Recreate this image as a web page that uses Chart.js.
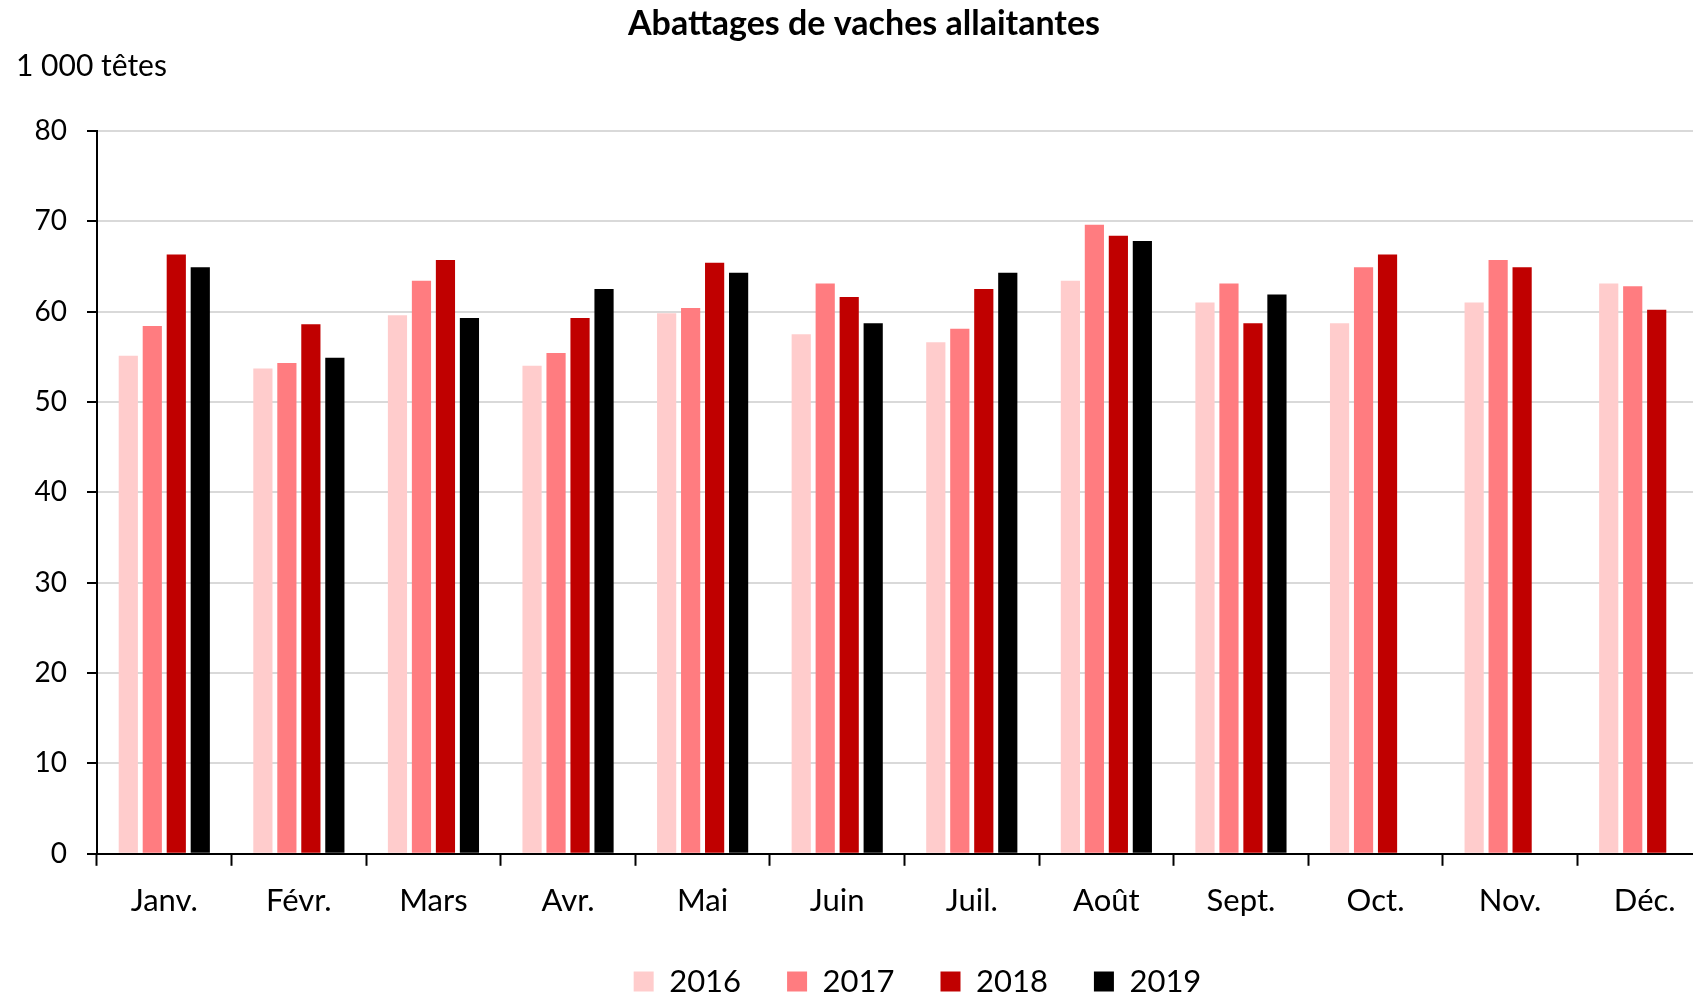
<!DOCTYPE html>
<html lang="fr">
<head>
<meta charset="utf-8">
<script src="https://cdn.jsdelivr.net/npm/chart.js@4"></script>
<style>
  html, body { margin: 0; padding: 0; background: #fff; overflow: hidden; }
  #wrap { position: relative; width: 1712px; height: 996px; }
</style>
</head>
<body>
<div id="wrap"><canvas id="chart"></canvas></div>
<script>
const months = ['Janv.', 'Févr.', 'Mars', 'Avr.', 'Mai', 'Juin', 'Juil.', 'Août', 'Sept.', 'Oct.', 'Nov.', 'Déc.'];
const years = ['2016', '2017', '2018', '2019'];

const y2016 = [55.1, 53.7, 59.6, 54.0, 59.8, 57.5, 56.6, 63.4, 61.0, 58.7, 61.0, 63.1];
const y2017 = [58.4, 54.3, 63.4, 55.4, 60.4, 63.1, 58.1, 69.6, 63.1, 64.9, 65.7, 62.8];
const y2018 = [66.3, 58.6, 65.7, 59.3, 65.4, 61.6, 62.5, 68.4, 58.7, 66.3, 64.9, 60.2];
const y2019 = [64.9, 54.9, 59.3, 62.5, 64.3, 58.7, 64.3, 67.8, 61.9, null, null, null];

const yTicks = [0, 10, 20, 30, 40, 50, 60, 70, 80];

const colors = ['#ffcccc', '#ff7c80', '#c00000', '#000000'];
const series = [y2016, y2017, y2018, y2019];

const font = 'Lato, "Open Sans", sans-serif';

const chartCanvas = document.getElementById('chart');

// nudge the legend a little to the right, like the original
const legendShift = {
  id: 'legendShift',
  afterLayout(chart) {
    chart.legend.left += 13;
    chart.legend.right += 13;
  }
};

new Chart(chartCanvas, {
  type: 'bar',
  data: {
    labels: months,
    datasets: series.map((vals, i) => ({
      label: years[i],
      data: vals,
      backgroundColor: colors[i],
      borderWidth: 0,
      categoryPercentage: 0.713,
      barPercentage: 0.8
    }))
  },
  plugins: [legendShift],
  options: {
    responsive: true,
    maintainAspectRatio: false,
    animation: false,
    layout: { padding: { left: 16, right: 0, top: 0, bottom: -11 } },
    plugins: {
      title: {
        display: true,
        text: 'Abattages de vaches allaitantes',
        color: '#000',
        font: { family: font, size: 34, weight: 'bold' },
        padding: { top: 4, bottom: 0 }
      },
      subtitle: {
        display: true,
        text: '1 000 têtes',
        align: 'start',
        color: '#000',
        font: { family: font, size: 30 },
        padding: { top: 4, bottom: 46 }
      },
      legend: {
        position: 'bottom',
        fullSize: false,
        labels: {
          color: '#000',
          font: { family: font, size: 31 },
          boxWidth: 20,
          boxHeight: 20,
          padding: 46
        }
      },
      tooltip: { enabled: false }
    },
    scales: {
      x: {
        offset: true,
        afterFit: scale => { scale.height -= 17; },
        border: { color: '#000', width: 2 },
        grid: {
          offset: true,
          drawOnChartArea: false,
          tickColor: '#000',
          tickLength: 12,
          tickWidth: 2
        },
        ticks: {
          color: '#000',
          font: { family: font, size: 31 },
          padding: 17
        }
      },
      y: {
        min: 0,
        max: 80,
        afterFit: scale => { scale.width = 81; },
        afterBuildTicks: scale => { scale.ticks = yTicks.map(v => ({ value: v })); },
        border: { color: '#000', width: 2 },
        grid: {
          color: '#d9d9d9',
          lineWidth: 2,
          tickColor: '#000',
          tickLength: 10,
          tickWidth: 2
        },
        ticks: {
          color: '#000',
          font: { family: font, size: 28 },
          padding: 20
        }
      }
    }
  }
});
</script>
</body>
</html>
